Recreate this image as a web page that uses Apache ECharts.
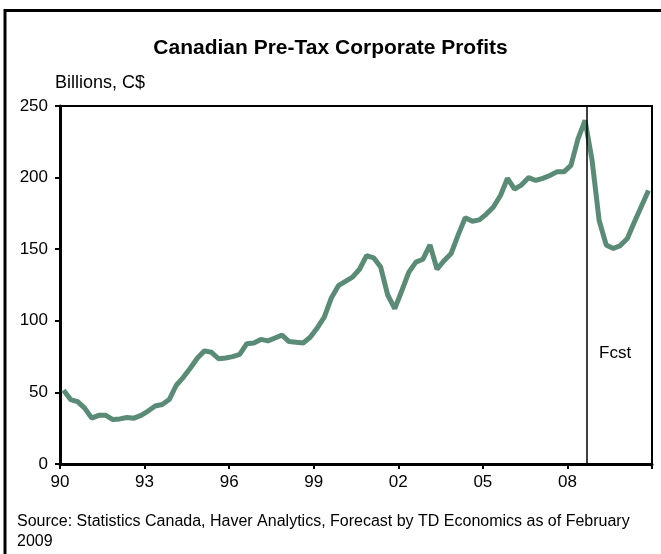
<!DOCTYPE html>
<html>
<head>
<meta charset="utf-8">
<script src="https://cdn.jsdelivr.net/npm/echarts@6/dist/echarts.min.js"></script>
<style>
  html, body { margin: 0; padding: 0; background: #fff; }
  #main { width: 661px; height: 554px; }
</style>
</head>
<body>
<div id="main"></div>
<script>
// quarterly, 1990Q1 .. 2010Q4 (forecast from 2008Q4)
const startYear = 1990;
const profits = [
  51.5, 45, 43.5, 39, 32, 34, 34, 31, 31.5, 32.5, 32, 34,
  37, 40.5, 41.5, 45, 55, 60.5, 67, 74, 79, 78, 73.5, 74,
  75, 76.5, 84, 84.5, 87, 86, 88, 90, 85.5, 85, 84.5, 88.5,
  95, 102.5, 116, 124.5, 127.5, 130.5, 136, 145.5, 144, 137.5, 118, 108.5,
  121, 134, 141, 143, 153, 136, 142, 147, 160, 172, 169.5, 170.5,
  174.5, 179.5, 187.5, 199.5, 192, 195, 200, 198, 199.5, 201.5, 204, 204,
  208.5, 227, 240, 212, 170, 153, 150.5, 152.5, 157.5, 169, 180, 191
];
const forecastStart = 2008.67;
const font = '"Liberation Sans", Arial, sans-serif';

const seriesData = profits.map((v, i) => [startYear + (i + 0.5) / 4, v]);

const options = {
  animation: false,
  backgroundColor: '#fff',
  textStyle: { fontFamily: font },
  title: {
    text: 'Canadian Pre-Tax Corporate Profits',
    left: 'center',
    top: 33,
    textStyle: { fontSize: 21, fontWeight: 'bold', color: '#000', fontFamily: font }
  },
  grid: {
    left: 60, right: 9, top: 106, bottom: 90,
    show: true, borderColor: '#000', borderWidth: 2
  },
  xAxis: {
    type: 'value',
    min: 1990, max: 2011, interval: 3,
    splitLine: { show: false },
    axisLine: { lineStyle: { color: '#000', width: 3 } },
    axisTick: { show: true, length: 5, lineStyle: { color: '#000', width: 2 } },
    axisLabel: {
      color: '#000', fontSize: 17, margin: 10, fontFamily: font,
      formatter: v => v >= 2011 ? '' : String(v).slice(2)
    }
  },
  yAxis: {
    type: 'value',
    min: 0, max: 250, interval: 50,
    splitLine: { show: false },
    axisLine: { show: true, lineStyle: { color: '#000', width: 3 } },
    axisTick: { show: true, length: 5, lineStyle: { color: '#000', width: 2 } },
    axisLabel: { color: '#000', fontSize: 17, margin: 12, fontFamily: font }
  },
  series: [{
    type: 'line',
    data: seriesData,
    showSymbol: false,
    lineStyle: { color: '#5a8b76', width: 5 },
    z: 3,
    markLine: {
      silent: true,
      symbol: 'none',
      label: { show: false },
      lineStyle: { color: '#000', width: 1.5, type: 'solid' },
      data: [[{ coord: [forecastStart, 0] }, { coord: [forecastStart, 250] }]]
    }
  }],
  graphic: [
    {
      type: 'rect', silent: true,
      shape: { x: 5, y: 10.5, width: 700, height: 600 },
      style: { fill: 'none', stroke: '#000', lineWidth: 3 }
    },
    {
      type: 'text', left: 55, top: 74,
      style: { text: 'Billions, C$', fontSize: 18, fill: '#000', fontFamily: font }
    },
    {
      type: 'text', left: 599, top: 345,
      style: { text: 'Fcst', fontSize: 17, fill: '#000', fontFamily: font }
    },
    {
      type: 'text', left: 17, top: 512,
      style: {
        text: 'Source: Statistics Canada, Haver Analytics, Forecast by TD Economics as of February\n2009',
        fontSize: 16, lineHeight: 20, fill: '#000', fontFamily: font
      }
    }
  ]
};

const myChart = echarts.init(document.getElementById('main'));
myChart.setOption(options);
</script>
</body>
</html>
